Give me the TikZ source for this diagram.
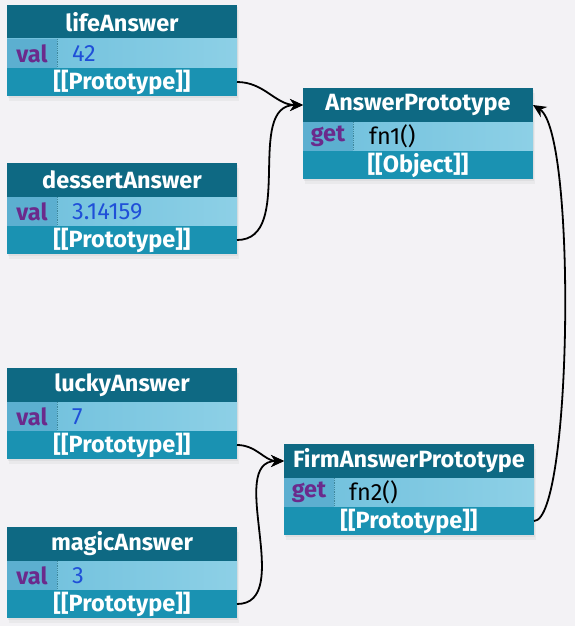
\documentclass[tikz,border=0pt]{standalone}
\usepackage{fontspec}
\setmainfont{Fira Sans}
\usepackage{xcolor}
\definecolor{headteal}{HTML}{0E6983}
\definecolor{valblue}{HTML}{6EBFDC}
\definecolor{vallight}{HTML}{8DD0E6}
\definecolor{keyblue}{HTML}{5CAFD0}
\definecolor{prototeal}{HTML}{1A92B2}
\definecolor{keypurple}{HTML}{6B2A8C}
\definecolor{numblue}{HTML}{1F4FD8}
\definecolor{pagebg}{HTML}{F3F2F5}
\usepackage{tikz}
\usetikzlibrary{arrows.meta, positioning, calc, fit, backgrounds, shadows}

\tikzset{
  row/.style={rectangle, inner sep=0pt, outer sep=0pt, text=white,
              font=\bfseries\fontsize{23.5}{26}\selectfont},
  headrow/.style={row, fill=headteal, minimum height=34pt},
  valrow/.style={row, left color=valblue, right color=vallight, minimum height=29pt},
  protorow/.style={row, fill=prototeal, minimum height=28pt},
  keycell/.style={row, fill=keyblue, text=keypurple, minimum width=50pt, minimum height=29pt},
  numtext/.style={inner sep=0pt, text=numblue, font=\fontsize{23.5}{26}\selectfont},
  fntext/.style={inner sep=0pt, text=black, font=\fontsize{23.5}{26}\selectfont},
  sep/.style={densely dotted, line width=0.8pt, headteal!80},
  boxshadow/.style={inner sep=0pt, fill=pagebg,
              drop shadow={opacity=.10, shadow xshift=1pt, shadow yshift=-2pt},
              drop shadow={opacity=.08, shadow xshift=2pt, shadow yshift=-5pt}},
  link/.style={-{Stealth[length=13pt,width=12pt]}, line width=1.8pt}
}

\begin{document}
\begin{tikzpicture}[x=1pt, y=-1pt]
    \useasboundingbox (0,0) rectangle (575,626);

    % lifeAnswer
    \node[headrow, minimum width=230pt, anchor=north west] (life) at (7,5) {lifeAnswer};
    \node[valrow, minimum width=230pt, below=0pt of life] (life-val) {};
    \node[keycell, anchor=west] (life-key) at (life-val.west) {val};
    \node[numtext, anchor=west, xshift=15pt] (life-v) at (life-key.east) {42};
    \draw[sep] (life-key.north east) -- (life-key.south east);
    \node[protorow, minimum width=230pt, below=0pt of life-val] (life-proto) {[[Prototype]]};

    % dessertAnswer
    \node[headrow, minimum width=230pt, anchor=north west] (dessert) at (7,163) {dessertAnswer};
    \node[valrow, minimum width=230pt, below=0pt of dessert] (dessert-val) {};
    \node[keycell, anchor=west] (dessert-key) at (dessert-val.west) {val};
    \node[numtext, anchor=west, xshift=15pt] (dessert-v) at (dessert-key.east) {3.14159};
    \draw[sep] (dessert-key.north east) -- (dessert-key.south east);
    \node[protorow, minimum width=230pt, below=0pt of dessert-val] (dessert-proto) {[[Prototype]]};

    % luckyAnswer
    \node[headrow, minimum width=230pt, anchor=north west] (lucky) at (7,368) {luckyAnswer};
    \node[valrow, minimum width=230pt, below=0pt of lucky] (lucky-val) {};
    \node[keycell, anchor=west] (lucky-key) at (lucky-val.west) {val};
    \node[numtext, anchor=west, xshift=15pt] (lucky-v) at (lucky-key.east) {7};
    \draw[sep] (lucky-key.north east) -- (lucky-key.south east);
    \node[protorow, minimum width=230pt, below=0pt of lucky-val] (lucky-proto) {[[Prototype]]};

    % magicAnswer
    \node[headrow, minimum width=230pt, anchor=north west] (magic) at (7,527) {magicAnswer};
    \node[valrow, minimum width=230pt, below=0pt of magic] (magic-val) {};
    \node[keycell, anchor=west] (magic-key) at (magic-val.west) {val};
    \node[numtext, anchor=west, xshift=15pt] (magic-v) at (magic-key.east) {3};
    \draw[sep] (magic-key.north east) -- (magic-key.south east);
    \node[protorow, minimum width=230pt, below=0pt of magic-val] (magic-proto) {[[Prototype]]};

    % AnswerPrototype
    \node[headrow, minimum width=230pt, anchor=north west] (ap) at (303,88) {AnswerPrototype};
    \node[valrow, minimum width=230pt, below=0pt of ap] (ap-val) {};
    \node[keycell, anchor=west] (ap-key) at (ap-val.west) {get};
    \node[fntext, anchor=west, xshift=16pt] (ap-fn) at (ap-key.east) {fn1()};
    \draw[sep] (ap-key.north east) -- (ap-key.south east);
    \node[protorow, minimum width=230pt, below=0pt of ap-val] (ap-proto) {[[Object]]};

    % FirmAnswerPrototype
    \node[headrow, minimum width=250pt, anchor=north west] (firm) at (284,444) {FirmAnswerPrototype};
    \node[valrow, minimum width=250pt, below=0pt of firm] (firm-val) {};
    \node[keycell, anchor=west] (firm-key) at (firm-val.west) {get};
    \node[fntext, anchor=west, xshift=15pt] (firm-fn) at (firm-key.east) {fn2()};
    \draw[sep] (firm-key.north east) -- (firm-key.south east);
    \node[protorow, minimum width=250pt, below=0pt of firm-val] (firm-proto) {[[Prototype]]};

    % page and shadows
    \begin{scope}[on background layer]
      \fill[pagebg] (0,0) rectangle (575,626);
      \node[boxshadow, fit=(life)(life-proto)] (life-box) {};
      \node[boxshadow, fit=(dessert)(dessert-proto)] (dessert-box) {};
      \node[boxshadow, fit=(lucky)(lucky-proto)] (lucky-box) {};
      \node[boxshadow, fit=(magic)(magic-proto)] (magic-box) {};
      \node[boxshadow, fit=(ap)(ap-proto)] (ap-box) {};
      \node[boxshadow, fit=(firm)(firm-proto)] (firm-box) {};
    \end{scope}

    % prototype links
    \draw[link] (life-proto.east) to[out=0, in=180] (ap.west);
    \draw[link] (dessert-proto.east) to[out=0, in=180] (ap.west);
    \draw[link] (lucky-proto.east) to[out=0, in=180] (firm.west);
    \draw[link] (magic-proto.east) to[out=0, in=180] (firm.west);
    \draw[link] (firm-proto.east) .. controls +(38,0) and +(44,28) .. (ap.east);
\end{tikzpicture}
\end{document}
